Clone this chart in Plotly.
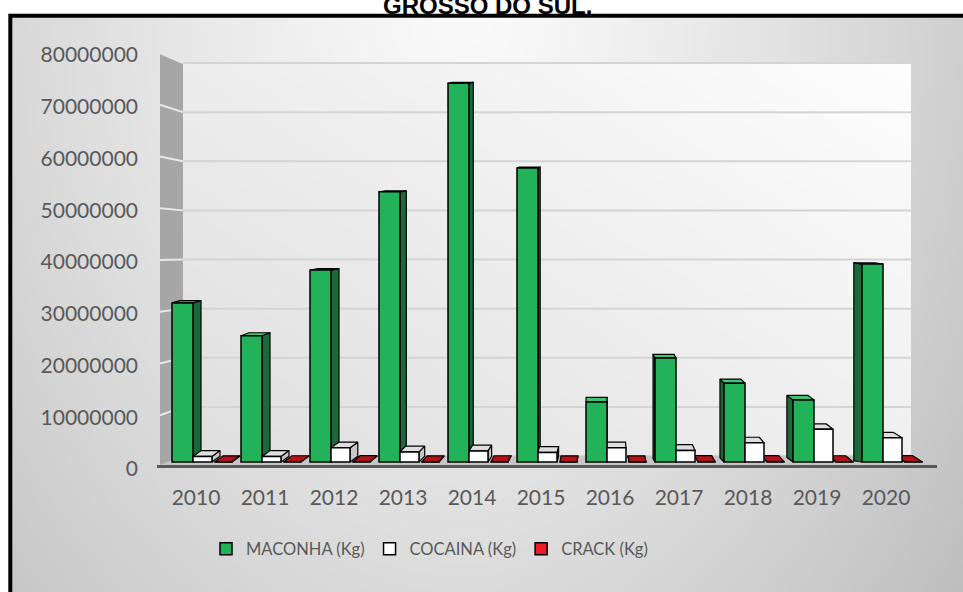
import base64
import struct
import zlib

import numpy as np
import plotly.graph_objects as go

# ---------------------------------------------------------------- data
years = ["2010", "2011", "2012", "2013", "2014", "2015",
         "2016", "2017", "2018", "2019", "2020"]
maconha_kg = [31500000, 25000000, 38000000, 53500000, 75000000, 58200000,
              11900000, 20600000, 15600000, 12300000, 39200000]
cocaina_kg = [1100000, 1100000, 2800000, 2000000, 2200000, 1900000,
              2800000, 2300000, 3800000, 6500000, 4800000]
crack_kg = [40000, 50000, 60000, 40000, 50000, 30000,
            40000, 60000, 70000, 50000, 60000]
series_names = ["MACONHA (Kg)", "COCAINA (Kg)", "CRACK (Kg)"]
y_ticks = [0, 10000000, 20000000, 30000000, 40000000,
           50000000, 60000000, 70000000, 80000000]
y_tick_text = [str(v) for v in y_ticks]
title_text = "GROSSO DO SUL."

# ---------------------------------------------------------------- styling
W, H = 963, 592
PL, PR, PT, PB = 157, 937, 50, 470          # plot rectangle (px)
PW, PH = PR - PL, PB - PT
YMAX = y_ticks[-1]

TEXT_GRAY = "#595959"
FONT = "Lato, Carlito, 'Open Sans', sans-serif"

front_colors = ["#22b35a", "#ffffff", "#ee1c24"]
side_colors = ["#1b6a3a", "#c8c8c8", "#7a0a0e"]
top_colors = ["#3dc474", "#dedede", "#b3121b"]

CAT_PX = 69          # spacing between years
T0 = 196             # pixel of the first year label
front_off_px = [-24, -3, 19]
front_w_px = [21, 19, 17]
VP = 600             # horizontal vanishing point of the 3-D look


def fx(px):
    return (px - PL) / PW


def fy(py):
    return (PB - py) / PH


def yrange(p0, p80):
    """axis range that puts 0 at pixel p0 and YMAX at pixel p80"""
    per = (p0 - p80) / YMAX
    r0 = -(PB - p0) / per
    return [r0, r0 + PH / per]


BAR_P0, BAR_P80 = 462, 58       # bar plane
FRONT_P0, FRONT_P80 = 469, 55   # front edge (labels)
BACK_P0, BACK_P80 = 456, 63     # back wall
bar_units_per_px = YMAX / (BAR_P0 - BAR_P80)


def front_px(v):
    return FRONT_P0 - v * (FRONT_P0 - FRONT_P80) / YMAX


def back_px(v):
    return BACK_P0 - v * (BACK_P0 - BACK_P80) / YMAX


# ---------------------------------------------------------------- gradients
def png_uri(arr):
    h, w = arr.shape
    raw = b"".join(b"\x00" + arr[r].tobytes() for r in range(h))

    def chunk(tag, data):
        return (struct.pack(">I", len(data)) + tag + data
                + struct.pack(">I", zlib.crc32(tag + data) & 0xFFFFFFFF))

    png = (b"\x89PNG\r\n\x1a\n"
           + chunk(b"IHDR", struct.pack(">IIBBBBB", w, h, 8, 0, 0, 0, 0))
           + chunk(b"IDAT", zlib.compress(raw, 9))
           + chunk(b"IEND", b""))
    return "data:image/png;base64," + base64.b64encode(png).decode()


gx, gy = np.meshgrid(np.linspace(10, 980, 194), np.linspace(16, 600, 118))
r = np.sqrt(((gx - 480) / 520) ** 2 + (gy / 700) ** 2)
outer = 250 - 38 * r ** 1.3 - 8 * np.clip((gx - 480) / 480, 0, None)
outer_img = png_uri(np.clip(outer, 0, 255).astype(np.uint8))

u, v = np.meshgrid(np.linspace(0, 1, 146), np.linspace(0, 1, 80))
wall = 254 - 28 * ((1 - u) * 0.6 + v * 0.5)
wall_img = png_uri(np.clip(wall, 0, 255).astype(np.uint8))

# ---------------------------------------------------------------- figure
idx = list(range(len(years)))
all_series = [maconha_kg, cocaina_kg, crack_kg]

fig = go.Figure()

# side and top faces of the columns (drawn under the front faces)
for s, vals in enumerate(all_series):
    side_x, side_y, top_x, top_y = [], [], [], []
    for i, val in zip(idx, vals):
        a = i + front_off_px[s] / CAT_PX
        b = a + front_w_px[s] / CAT_PX
        xc_px = T0 + CAT_PX * i + front_off_px[s] + front_w_px[s] / 2
        dx = float(np.clip(0.03 * (VP - xc_px), -10, 8)) / CAT_PX
        dy = max(1.0, 6 - 0.12 * val / 1e6) * bar_units_per_px
        edge = b if dx > 0 else a
        side_x += [edge, edge, edge + dx, edge + dx, edge, None]
        side_y += [0, val, val + dy, dy, 0, None]
        top_x += [a, b, b + dx, a + dx, a, None]
        top_y += [val, val, val + dy, val + dy, val, None]
    fig.add_trace(go.Scatter(x=side_x, y=side_y, mode="lines", fill="toself",
                             fillcolor=side_colors[s],
                             line=dict(color="black", width=1.2),
                             hoverinfo="skip", showlegend=False))
    fig.add_trace(go.Scatter(x=top_x, y=top_y, mode="lines", fill="toself",
                             fillcolor=top_colors[s],
                             line=dict(color="black", width=1.2),
                             hoverinfo="skip", showlegend=False))

# front faces
for s, vals in enumerate(all_series):
    fig.add_trace(go.Bar(
        x=idx, y=vals, yaxis="y2", name=series_names[s],
        offset=front_off_px[s] / CAT_PX, width=front_w_px[s] / CAT_PX,
        marker=dict(color=front_colors[s], line=dict(color="black", width=1.5)),
    ))

# axes that only carry labels / wall grid
fig.add_trace(go.Scatter(x=[None], y=[None], yaxis="y3", showlegend=False,
                         hoverinfo="skip"))
fig.add_trace(go.Scatter(x=[None], y=[None], yaxis="y4", showlegend=False,
                         hoverinfo="skip"))

shapes = []
# back-wall grid lines
for t in y_ticks:
    shapes.append(dict(type="line", xref="paper", yref="y4",
                       x0=fx(183), x1=fx(911), y0=t, y1=t,
                       line=dict(color="#d4d4d4", width=2), layer="below"))
# left side wall
shapes.append(dict(
    type="path", xref="paper", yref="paper", layer="below",
    path=(f"M{fx(160)},{fy(front_px(YMAX) - 2)} L{fx(183)},{fy(back_px(YMAX))} "
          f"L{fx(183)},{fy(back_px(0))} L{fx(160)},{fy(front_px(0) - 2)} Z"),
    fillcolor="#a6a6a6", line=dict(width=0)))
for t in y_ticks[1:]:
    shapes.append(dict(type="line", xref="paper", yref="paper", layer="below",
                       x0=fx(160), y0=fy(front_px(t) - 2),
                       x1=fx(183), y1=fy(back_px(t)),
                       line=dict(color="#e8e8e8", width=2)))
# floor
shapes.append(dict(
    type="path", xref="paper", yref="paper", layer="below",
    path=(f"M{fx(157)},{fy(466)} L{fx(937)},{fy(466)} "
          f"L{fx(911)},{fy(456)} L{fx(183)},{fy(456)} Z"),
    fillcolor="#c6c6c6", line=dict(width=0)))
shapes.append(dict(type="line", xref="paper", yref="paper", layer="above",
                   x0=fx(157), x1=fx(937), y0=fy(466.5), y1=fy(466.5),
                   line=dict(color=TEXT_GRAY, width=3)))
# chart border
shapes.append(dict(type="rect", xref="paper", yref="paper", layer="above",
                   x0=fx(10.3), y0=fy(15.8), x1=fx(1000), y1=fy(650),
                   line=dict(color="black", width=4), fillcolor="rgba(0,0,0,0)"))

images = [
    dict(source=outer_img, xref="paper", yref="paper", x=fx(10), y=fy(16),
         sizex=(980 - 10) / PW, sizey=(600 - 16) / PH, xanchor="left",
         yanchor="top", sizing="stretch", layer="below"),
    dict(source=wall_img, xref="paper", yref="paper", x=fx(183), y=fy(63),
         sizex=(911 - 183) / PW, sizey=(456 - 63) / PH, xanchor="left",
         yanchor="top", sizing="stretch", layer="below"),
]

hidden_y = dict(showgrid=False, zeroline=False, showticklabels=False,
                showline=False, ticks="", fixedrange=True)

fig.update_layout(
    width=W, height=H, autosize=False,
    margin=dict(l=PL, r=W - PR, t=PT, b=H - PB, pad=0),
    paper_bgcolor="white", plot_bgcolor="rgba(0,0,0,0)",
    barmode="overlay",
    showlegend=True,
    xaxis=dict(range=[(PL - T0) / CAT_PX, (PR - T0) / CAT_PX],
               tickmode="array", tickvals=idx, ticktext=years,
               showgrid=False, zeroline=False, showline=False, ticks="",
               tickfont=dict(family=FONT, size=21, color=TEXT_GRAY),
               ticklabelstandoff=13, fixedrange=True),
    yaxis=dict(range=yrange(BAR_P0, BAR_P80), **hidden_y),
    yaxis2=dict(range=yrange(BAR_P0, BAR_P80), overlaying="y", **hidden_y),
    yaxis3=dict(range=yrange(FRONT_P0, FRONT_P80), overlaying="y", side="left",
                tickmode="array", tickvals=y_ticks, ticktext=y_tick_text,
                showgrid=False, zeroline=False, showline=False, ticks="",
                tickfont=dict(family=FONT, size=21, color=TEXT_GRAY),
                ticklabelstandoff=18, fixedrange=True),
    yaxis4=dict(range=yrange(BACK_P0, BACK_P80), overlaying="y", **hidden_y),
    legend=dict(orientation="h", x=fx(206), xanchor="left",
                y=fy(549), yanchor="middle",
                font=dict(family=FONT, size=16.5, color=TEXT_GRAY),
                bgcolor="rgba(0,0,0,0)", traceorder="normal"),
    shapes=shapes,
    images=images,
    annotations=[dict(text=f"<b>{title_text}</b>", xref="paper", yref="paper",
                      x=fx(487), y=fy(20.5), xanchor="center", yanchor="bottom",
                      showarrow=False,
                      font=dict(family="Liberation Sans, Arial, sans-serif",
                                size=24, color="black"))],
)

fig.write_html("out.html")
